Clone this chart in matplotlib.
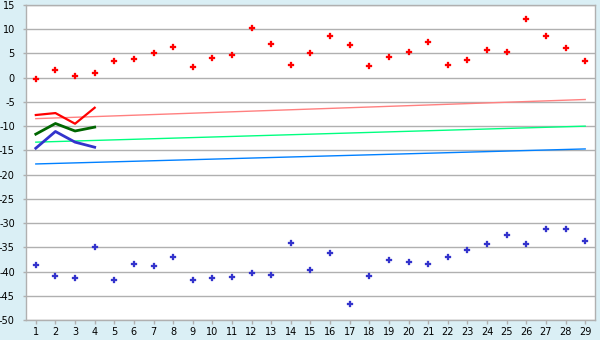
import matplotlib
matplotlib.use("Agg")
import matplotlib.pyplot as plt

plt.rcParams['font.family'] = ['DejaVu Sans']
plt.rcParams['axes.unicode_minus'] = False

days = list(range(1, 30))
red_pts = [-0.2, 1.5, 0.4, 0.9, 3.5, 3.95, 5.05, 6.4, 2.3, 4.15,
           4.6, 10.2, 6.85, 2.7, 5.0, 8.5, 6.65, 2.5, 4.35, 5.2,
           7.45, 2.7, 3.75, 5.8, 5.4, 12.2, 8.7, 6.2, 3.5]
blue_pts = [-38.7, -41.0, -41.4, -35.0, -41.8, -38.5, -38.9, -37.1, -41.8, -41.4,
            -41.2, -40.4, -40.8, -34.2, -39.75, -36.25, -46.8, -41.0, -37.7, -38.1,
            -38.5, -37.1, -35.6, -34.4, -32.5, -34.4, -31.3, -31.3, -33.8]
short_x = [1, 2, 3, 4]
red_line = [-7.7, -7.3, -9.5, -6.2]
green_line = [-11.65, -9.45, -11.0, -10.2]
blue_line = [-14.55, -11.1, -13.3, -14.35]
trend_x = [1, 29]
pink_trend = [-8.45, -4.5]
lgreen_trend = [-13.3, -10.0]
lblue_trend = [-17.8, -14.7]
yticks = list(range(-50, 16, 5))

fig = plt.figure(figsize=(6, 3.4), dpi=100, facecolor='#daeff5')
ax = fig.add_axes([26/600, 20/340, (595-26)/600, (320-5)/340])
ax.set_facecolor('white')

for y in yticks:
    ax.axhline(y, color='#b0b0b0', lw=1, zorder=0)

ax.plot(trend_x, pink_trend, color='#ff8080', lw=1, zorder=2)
ax.plot(trend_x, lgreen_trend, color='#00ff80', lw=1, zorder=2)
ax.plot(trend_x, lblue_trend, color='#0080ff', lw=1, zorder=2)

ax.plot(short_x, red_line, color='#ff0000', lw=1.6, zorder=3)
ax.plot(short_x, green_line, color='#006600', lw=2, zorder=3)
ax.plot(short_x, blue_line, color='#3333cc', lw=2, zorder=3)

ax.plot(days, red_pts, ls='none', marker='P', ms=5, color='#ff0000',
        mec='#ff0000', mew=0.2, zorder=4)
ax.plot(days, blue_pts, ls='none', marker='P', ms=4.8, color='#3333cc',
        mec='#3333cc', mew=0.2, zorder=4)

ax.set_xlim(0.5, 29.5)
ax.set_ylim(-50, 15)
ax.set_xticks(days)
ax.set_yticks(yticks)
ax.tick_params(axis='both', labelsize=7, colors='black', length=3, width=1,
               color='#b0b0b0', pad=2)
ax.tick_params(axis='y', length=2, pad=6)
for s in ax.spines.values():
    s.set_color('#b0b0b0')
    s.set_linewidth(1)

fig.savefig('out.png', dpi=100, facecolor=fig.get_facecolor())
